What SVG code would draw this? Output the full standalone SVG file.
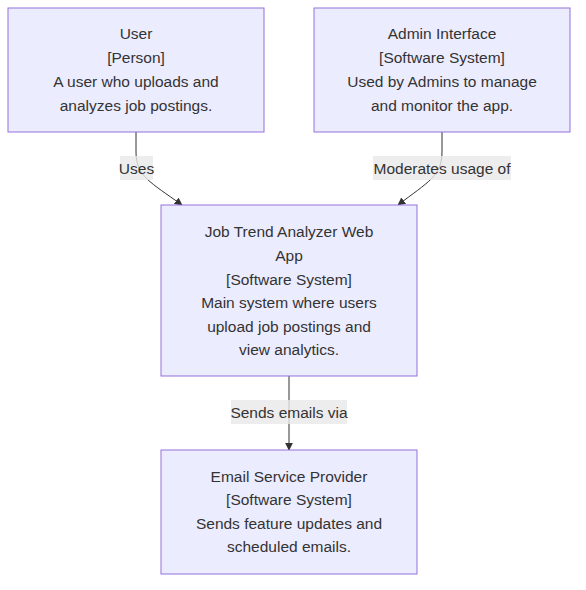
<svg xmlns="http://www.w3.org/2000/svg" width="586" height="590" viewBox="0 0 586 590">
<style>
.box{fill:#ECECFF;stroke:#9370DB;stroke-width:1}
.t{font-family:"Liberation Sans",Arial,sans-serif;font-size:15.5px;fill:#333;text-anchor:middle;dominant-baseline:central}
.edge{fill:none;stroke:#333;stroke-width:1}
.lbg{fill:#e8e8e8;opacity:0.8}
</style>
<defs>
<marker id="arrow" viewBox="0 0 10 10" refX="9" refY="5" markerWidth="8" markerHeight="8" markerUnits="userSpaceOnUse" orient="auto">
<path d="M0,0 L10,5 L0,10 z" fill="#333"/>
</marker>
</defs>
<rect width="586" height="590" fill="#ffffff"/>
<g id="connectors">
<path class="edge" d="M136,132 L136,152 C136,176 150,182 182,205" marker-end="url(#arrow)"/>
<path class="edge" d="M442,132 L442,152 C442,176 428,182 398,205" marker-end="url(#arrow)"/>
<path class="edge" d="M289,376 L289,450" marker-end="url(#arrow)"/>
<rect class="lbg" x="120" y="156" width="33" height="24"/>
<text class="t" x="136.5" y="168">Uses</text>
<rect class="lbg" x="373" y="156" width="138" height="24"/>
<text class="t" x="442" y="168">Moderates usage of</text>
<rect class="lbg" x="231" y="400" width="116" height="24"/>
<text class="t" x="289" y="412">Sends emails via</text>
</g>
<g id="user">
<rect class="box" x="8" y="8" width="256" height="124"/>
<text class="t" x="136" y="33">User</text>
<text class="t" x="136" y="57">[Person]</text>
<text class="t" x="136" y="81">A user who uploads and</text>
<text class="t" x="136" y="105">analyzes job postings.</text>
</g>
<g id="admin">
<rect class="box" x="314" y="8" width="256" height="124"/>
<text class="t" x="442" y="33">Admin Interface</text>
<text class="t" x="442" y="57">[Software System]</text>
<text class="t" x="442" y="81">Used by Admins to manage</text>
<text class="t" x="442" y="105">and monitor the app.</text>
</g>
<g id="webapp">
<rect class="box" x="161" y="205" width="256" height="171"/>
<text class="t" x="289" y="231">Job Trend Analyzer Web</text>
<text class="t" x="289" y="255">App</text>
<text class="t" x="289" y="279">[Software System]</text>
<text class="t" x="289" y="302">Main system where users</text>
<text class="t" x="289" y="326">upload job postings and</text>
<text class="t" x="289" y="349">view analytics.</text>
</g>
<g id="email">
<rect class="box" x="161" y="450" width="256" height="124"/>
<text class="t" x="289" y="476">Email Service Provider</text>
<text class="t" x="289" y="499">[Software System]</text>
<text class="t" x="289" y="523">Sends feature updates and</text>
<text class="t" x="289" y="546">scheduled emails.</text>
</g>
</svg>
